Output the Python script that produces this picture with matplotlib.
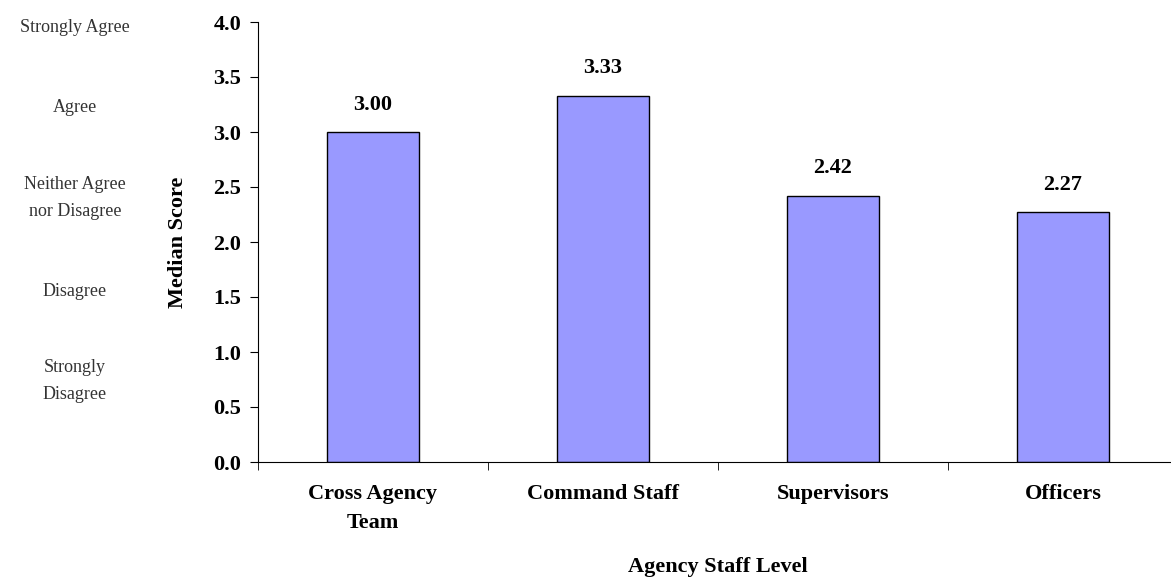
import matplotlib
matplotlib.use("Agg")
import matplotlib.pyplot as plt
import numpy as np

# data
categories = ["Cross Agency\nTeam", "Command Staff", "Supervisors", "Officers"]
medians = [3.00, 3.33, 2.42, 2.27]
value_labels = ["3.00", "3.33", "2.42", "2.27"]
scale_labels = ["Strongly Agree", "Agree", "Neither Agree\nnor Disagree", "Disagree", "Strongly\nDisagree"]
scale_ypix = [28, 107, 198, 291, 381]

plt.rcParams['font.family'] = ['Liberation Serif', 'DejaVu Serif']

W, H = 1171, 582
fig = plt.figure(figsize=(W / 100, H / 100), dpi=100)
ax = fig.add_axes([258 / W, 1 - 462 / H, 920 / W, 440 / H])

x = np.arange(len(categories))
ax.bar(x, medians, width=0.4, color="#9999ff", edgecolor="black", linewidth=1)

for xi, v, lab in zip(x, medians, value_labels):
    ax.text(xi, v + 0.25, lab, ha="center", va="center", fontsize=16, fontweight="bold")

ax.set_xlim(-0.5, len(categories) - 0.5)
ax.set_ylim(0, 4.0)
yt = np.arange(0, 4.01, 0.5)
ax.set_yticks(yt)
ax.set_yticklabels([f"{t:.1f}" for t in yt], fontsize=16, fontweight="bold")
ax.set_xticks(x)
ax.set_xticklabels(categories, fontsize=16, fontweight="bold", linespacing=1.6)
ax.tick_params(axis="x", which="major", length=0, pad=16)
ax.set_xticks(np.arange(-0.5, len(categories), 1.0), minor=True)
ax.tick_params(axis="x", which="minor", length=6, direction="out")
ax.tick_params(axis="y", length=6, direction="out", pad=6)

ax.spines["top"].set_visible(False)
ax.spines["right"].set_visible(False)

ax.set_ylabel("Median Score", fontsize=16, fontweight="bold", labelpad=18)
fig.text(718 / W, 1 - 567 / H, "Agency Staff Level", ha="center", va="center",
         fontsize=16, fontweight="bold")

# response scale labels on the far left
for lab, yp in zip(scale_labels, scale_ypix):
    fig.text(75 / W, 1 - yp / H, lab, ha="center", va="center",
             fontsize=13, color="#333333", linespacing=1.7)

fig.savefig("out.png", dpi=100)
